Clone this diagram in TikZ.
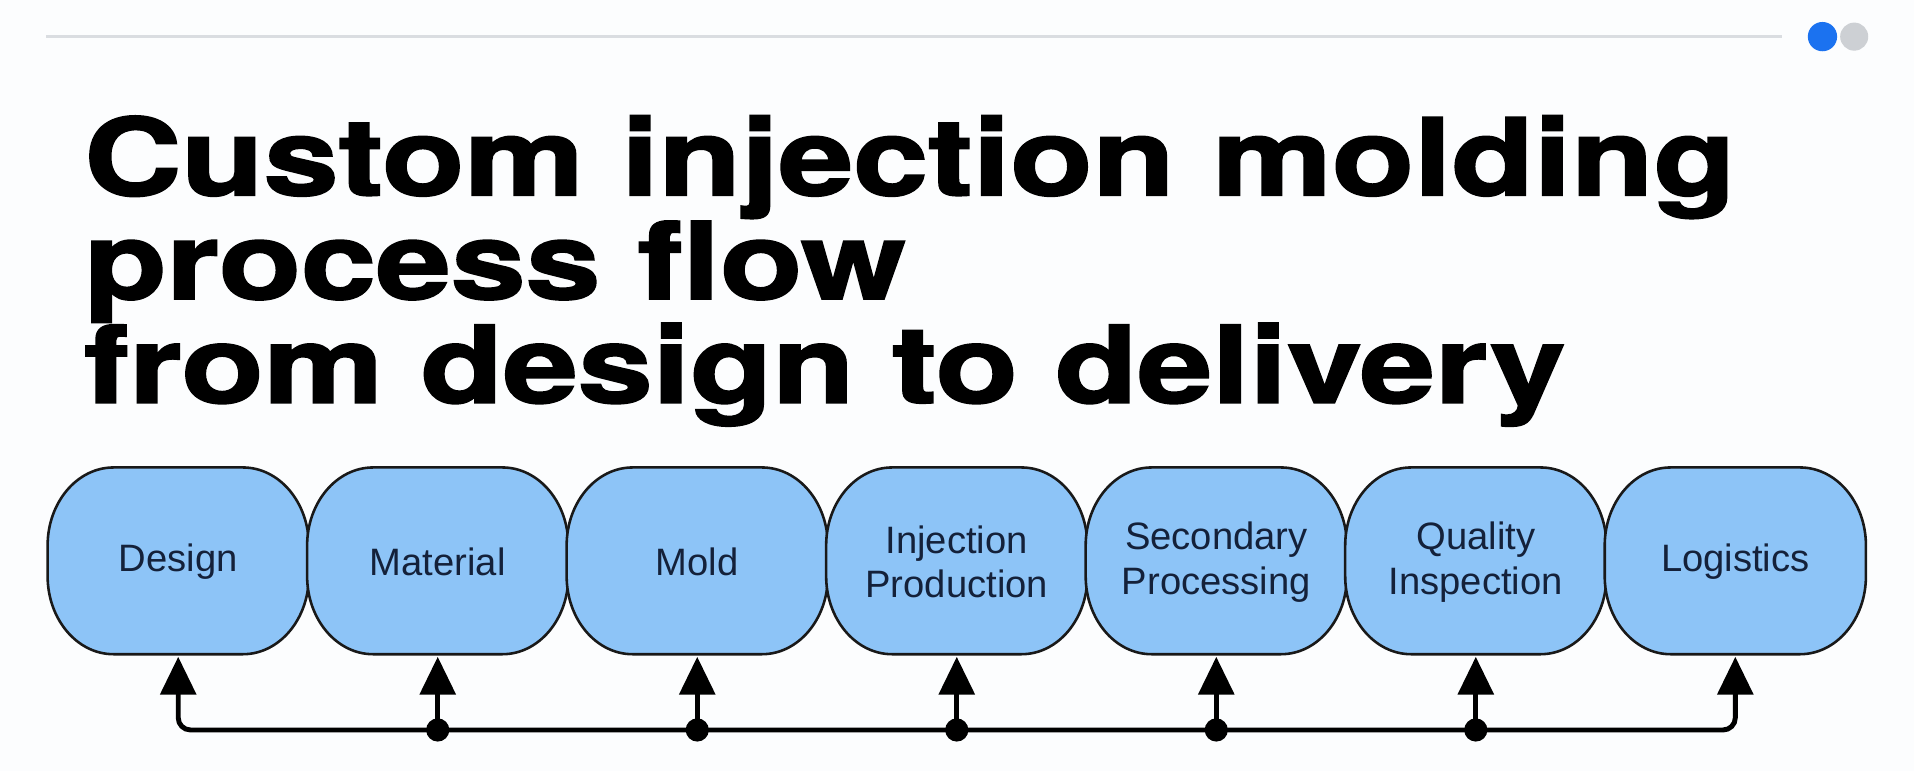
\documentclass[tikz,border=0pt]{standalone}
\usepackage{fontspec}
\usetikzlibrary{arrows.meta, calc, backgrounds}
\newfontfamily\headfont{texgyreheros-bold.otf}[FakeBold=1.6]
\newfontfamily\labelfont{Liberation Sans}
\definecolor{cpaper}{HTML}{FCFDFE}
\definecolor{crule}{HTML}{DADDE1}
\definecolor{cdotblue}{HTML}{1B72F0}
\definecolor{cdotgrey}{HTML}{CDD0D4}
\definecolor{cpod}{HTML}{8DC4F7}
\definecolor{cink}{HTML}{14213A}
\tikzset{
  every picture/.style={line width=0.6pt},
  headline/.style={font=\headfont\fontsize{25}{30}\selectfont, inner sep=0pt, anchor=base west},
  stage/.style={minimum width=2.14cm, minimum height=1.53cm, inner sep=0pt, align=center,
    font=\labelfont\fontsize{8.9}{10.3}\selectfont, text=cink},
  pod/.style={draw=black!90, fill=cpod, line width=0.6pt},
  corner/.style={x radius=0.54, y radius=0.64},
  feed/.style={-{Triangle[length=0.31cm, width=0.29cm]}, draw=black, line width=1.15pt},
  junction/.style={circle, fill=black, inner sep=0pt, minimum size=0.19cm},
}

\begin{document}
\begin{tikzpicture}[rule/.style={draw=crule, line width=0.6pt}]
  \useasboundingbox (0,0) rectangle (15.68,-6.32);
  % header rule and page dots
  \draw[rule] (0.38,-0.30) -- (14.60,-0.30);
  \fill[cdotgrey] (15.19,-0.30) circle (0.115);
  \fill[cdotblue] (14.93,-0.30) circle (0.12);
  % title
  \foreach \t [count=\i] in {Custom injection molding, process flow, from design to delivery}
    \node[headline] (head\i) at (0.68, -0.75-0.85*\i) {\scalebox{1.255}[1]{\t}};
  % stages
  \foreach \s [count=\i] in {Design, Material, Mold, Injection\\Production, Secondary\\Processing, Quality\\Inspection, Logistics}
    \node[stage] (s\i) at (-0.666+2.126*\i, -4.605) {\s};
  \begin{scope}[on background layer]
    \fill[cpaper] (0,0) rectangle (15.68,-6.32);
    % pod outlines: elliptic corners, short straight sides
    \foreach \i in {1,...,7}
      \path[pod] ($(s\i.north)+(-0.53,0)$) -- ++(1.06,0)
        arc[start angle=90, end angle=0, corner] -- ++(0,-0.25)
        arc[start angle=0, end angle=-90, corner] -- ++(-1.06,0)
        arc[start angle=270, end angle=180, corner] -- ++(0,0.25)
        arc[start angle=180, end angle=90, corner] -- cycle;
  \end{scope}
  % feed line under the stages
  \coordinate (bus) at (0,-5.98);
  \foreach \i in {1,...,7} \coordinate (b\i) at (s\i.south |- bus);
  \draw[feed, {Triangle[length=0.31cm, width=0.29cm]}-{Triangle[length=0.31cm, width=0.29cm]}, rounded corners=0.1cm]
    (s1.south) -- (b1) -- (b7) -- (s7.south);
  \foreach \i in {2,...,6} {
    \draw[feed] (b\i) -- (s\i.south);
    \node[junction] (j\i) at (b\i) {};
  }
\end{tikzpicture}
\end{document}
